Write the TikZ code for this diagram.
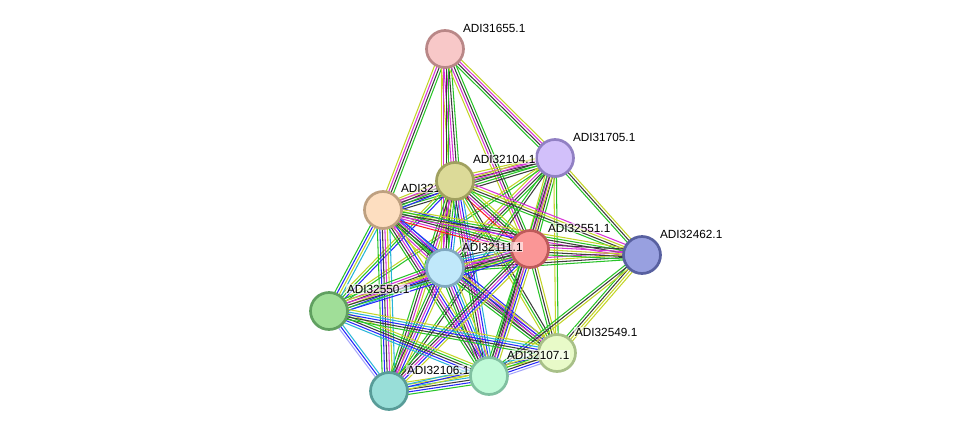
\documentclass[tikz,border=0pt]{standalone}
\usepackage{fontspec}
\setmainfont{Liberation Sans}
\usetikzlibrary{calc,backgrounds}
\definecolor{cgr}{RGB}{40,195,40}
\definecolor{cbk}{RGB}{60,60,60}
\definecolor{cmg}{RGB}{215,50,215}
\definecolor{clm}{RGB}{195,212,40}
\definecolor{cbl}{RGB}{40,40,250}
\definecolor{ccy}{RGB}{40,180,215}
\definecolor{crd}{RGB}{250,30,30}
\definecolor{clv}{RGB}{165,165,250}
\newcommand\sedge[3]{%
  \gdef\sedgen{0}%
  \foreach \c in {#3}{\xdef\sedgen{\the\numexpr\sedgen+1\relax}}%
  \foreach \c [count=\i] in {#3}{%
    \pgfmathsetmacro\off{(\i-(\sedgen+1)/2)*2.5}%
    \draw[\c, line width=1.05pt] ($(#1.center)!\off pt!90:(#2.center)$) -- ($(#2.center)!\off pt!-90:(#1.center)$);
  }}
\tikzset{
  prot/.style={circle, minimum size=37pt, line width=2.7pt, inner sep=0pt},
  lab/.style={anchor=west, font=\fontsize{11.8}{13}\selectfont, fill=white, fill opacity=0.6, text opacity=1, inner sep=0.8pt},
}
\begin{document}
\begin{tikzpicture}[x=1pt,y=-1pt]
\useasboundingbox (0,0) rectangle (975,437);
% nodes and labels (in drawing order)
\node[prot, fill={rgb,255:red,248;green,200;blue,200}, draw={rgb,255:red,185;green,135;blue,135}] (A) at (445,49) {};
\node[lab] (lA) at (462,28) {ADI31655.1};
\node[prot, fill={rgb,255:red,210;green,192;blue,250}, draw={rgb,255:red,145;green,128;blue,195}] (U) at (555,158) {};
\node[lab] (lU) at (572,137) {ADI31705.1};
\node[prot, fill={rgb,255:red,253;green,222;blue,192}, draw={rgb,255:red,190;green,160;blue,128}] (P) at (383,210) {};
\node[lab] (lP) at (400,188) {ADI32105.1};
\node[prot, fill={rgb,255:red,220;green,218;blue,152}, draw={rgb,255:red,160;green,160;blue,95}] (Y) at (455,181) {};
\node[lab] (lY) at (472,159) {ADI32104.1};
\node[prot, fill={rgb,255:red,250;green,150;blue,150}, draw={rgb,255:red,190;green,90;blue,90}] (R) at (530,249) {};
\node[lab] (lR) at (547,228) {ADI32551.1};
\node[prot, fill={rgb,255:red,192;green,232;blue,250}, draw={rgb,255:red,128;green,168;blue,192}] (Q) at (445,268) {};
\node[lab] (lQ) at (461,247) {ADI32111.1};
\node[prot, fill={rgb,255:red,152;green,160;blue,224}, draw={rgb,255:red,88;green,96;blue,160}] (B) at (642,255) {};
\node[lab] (lB) at (659,234) {ADI32462.1};
\node[prot, fill={rgb,255:red,160;green,222;blue,152}, draw={rgb,255:red,96;green,160;blue,96}] (G) at (329,311) {};
\node[lab] (lG) at (346,289) {ADI32550.1};
\node[prot, fill={rgb,255:red,232;green,250;blue,200}, draw={rgb,255:red,168;green,192;blue,136}] (L) at (557,353) {};
\node[lab] (lL) at (574,332) {ADI32549.1};
\node[prot, fill={rgb,255:red,152;green,222;blue,216}, draw={rgb,255:red,88;green,156;blue,152}] (T) at (389,391) {};
\node[lab] (lT) at (406,370) {ADI32106.1};
\node[prot, fill={rgb,255:red,192;green,250;blue,216}, draw={rgb,255:red,128;green,192;blue,160}] (M) at (489,376) {};
\node[lab] (lM) at (506,355) {ADI32107.1};
% edges
\begin{pgfonlayer}{background}
\sedge{A}{P}{clm,cmg,cbk,cgr}
\sedge{A}{Y}{clm,cmg,cmg,cbk,cgr}
\sedge{A}{Q}{clm,cmg,cbk,cgr}
\sedge{A}{R}{clm,cmg,cbk,cgr}
\sedge{A}{U}{cgr,cbk,cmg,clm}
\sedge{U}{Y}{clm,cmg,cbk,cgr}
\sedge{U}{P}{clm,cmg,cbk,cgr,cbk}
\sedge{U}{R}{clm,cmg,cmg,cbk,cgr}
\sedge{U}{Q}{clm,cmg,cbk,cgr}
\sedge{U}{B}{cgr,cbk,clm}
\sedge{U}{L}{clm,cgr}
\sedge{U}{M}{cgr,cbk,clm}
\sedge{U}{G}{clm,cgr}
\sedge{U}{T}{cgr,cbk}
\sedge{Y}{P}{clm,cmg,cbk,cgr,cbl}
\sedge{Y}{Q}{clm,cmg,cbk,cgr,cbl,ccy}
\sedge{Y}{R}{crd,cmg,cbk,cgr,clm}
\sedge{Y}{B}{cgr,cbk,clm,cmg}
\sedge{Y}{G}{clm,cgr,cbl}
\sedge{Y}{T}{cgr,cbk,cmg,clm}
\sedge{Y}{M}{cgr,cbk,cmg,cbl,ccy}
\sedge{Y}{L}{clm,cgr,cbk}
\sedge{P}{Q}{clm,cmg,cbk,cgr,cbl,ccy}
\sedge{P}{R}{crd,cmg,cbk,cgr,clm,cbl}
\sedge{P}{B}{cmg,cbk,cgr,clm}
\sedge{P}{G}{cgr,cbl,clm,ccy}
\sedge{P}{T}{cgr,cbl,cbk,cmg,clm,ccy}
\sedge{P}{M}{cgr,cbk,cmg,cbl,clm}
\sedge{P}{L}{cgr,cbk,cmg,cbl}
\sedge{Q}{R}{clm,cmg,cbk,cgr,cbl,ccy,cbk}
\sedge{Q}{B}{cgr,cbk,clm,cmg}
\sedge{Q}{G}{cgr,cmg,cbk,clm,cbl,ccy}
\sedge{Q}{T}{cgr,cbk,cmg,cbl,clm}
\sedge{Q}{M}{cgr,cbk,cmg,cbl,ccy,clm}
\sedge{Q}{L}{cgr,cbk,cmg,cbl,clm}
\sedge{R}{B}{cgr,cbk,clm,cmg,cbk}
\sedge{R}{G}{clm,cmg,cbk,cgr,cbl}
\sedge{R}{T}{cgr,cbk,cmg,cbl,clm}
\sedge{R}{M}{cgr,cbk,cmg,cbl,clm}
\sedge{R}{L}{cgr,cbk,clm}
\sedge{B}{L}{cgr,cbk,clm,clm}
\sedge{B}{M}{cgr,cbk,clm}
\sedge{G}{T}{clv,cbl,ccy}
\sedge{G}{M}{ccy,cbl,cbk,cgr,clm}
\sedge{G}{L}{cgr,cbk,cbl,ccy,clm}
\sedge{T}{M}{cgr,cbl,cbk,ccy,clm,clm}
\sedge{T}{L}{clm,cbl,ccy}
\sedge{M}{L}{clv,cbl,cbk,cgr,clm}
\end{pgfonlayer}
\end{tikzpicture}
\end{document}
